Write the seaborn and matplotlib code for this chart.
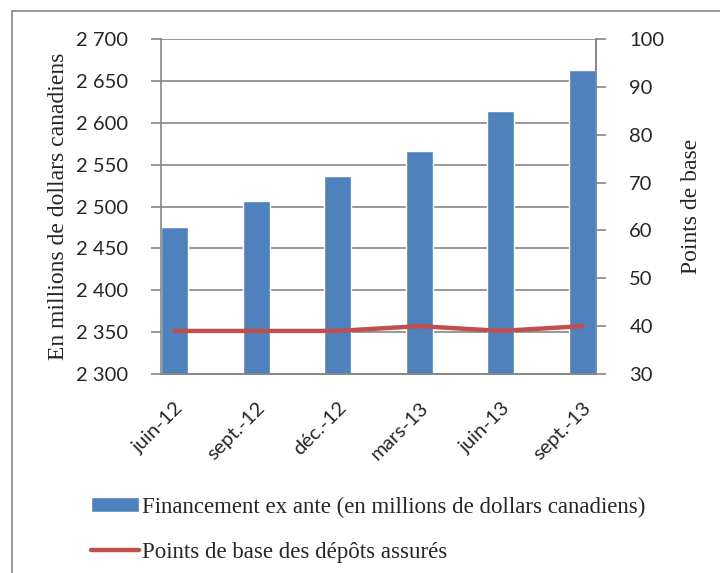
import matplotlib
matplotlib.use('Agg')
import matplotlib.pyplot as plt
import numpy as np
import pandas as pd
import seaborn as sns
from matplotlib.patches import Rectangle

# Data
periodes = ['juin-12', 'sept.-12', 'déc.-12', 'mars-13', 'juin-13', 'sept.-13']
financement = [2475, 2507, 2537, 2566, 2614, 2663]
points_base = [39, 39, 39, 40, 39, 40]

bar_label = 'Financement ex ante (en millions de dollars canadiens)'
line_label = 'Points de base des dépôts assurés'

df = pd.DataFrame({'periode': periodes, 'financement': financement,
                   'points': points_base, 'pos': np.arange(len(periodes))})

sns.set_style('white')
serif = ['Liberation Serif', 'DejaVu Serif']
sans = ['Lato', 'DejaVu Sans']
grey = '#868686'

fig = plt.figure(figsize=(7.2, 5.73), dpi=100)
ax = fig.add_axes([161 / 720, 1 - 374 / 573, 435 / 720, 335 / 573])

bw = 0.33
sns.barplot(data=df, x='periode', y='financement', color='#4F81BD', width=bw,
            saturation=1, ax=ax, zorder=2, label=bar_label)
ax.set_ylim(2300, 2700)
ax.set_yticks(np.arange(2300, 2701, 50))
ax.set_yticklabels([f'{v:,}'.replace(',', ' ') for v in range(2300, 2701, 50)],
                   family=sans, fontsize=14.5)
ax.set_xlim(-bw / 2, len(periodes) - 1 + bw / 2)
ax.set_xticks(df['pos'])
ax.set_xticklabels(periodes, rotation=45, ha='right', rotation_mode='anchor',
                   family=sans, fontsize=14.5)
ax.tick_params(axis='x', length=0, pad=18)
ax.set_xticks(df['pos'] - bw / 2, minor=True)
ax.tick_params(axis='x', which='minor', length=7, color=grey, width=1.2, direction='out')
ax.tick_params(axis='y', length=7, color=grey, width=1.2, direction='out', pad=17)
ax.grid(axis='y', color=grey, linewidth=1.2, zorder=0)
ax.set_axisbelow(True)
ax.set_xlabel('')
ax.set_ylabel('En millions de dollars canadiens', family=serif, fontsize=17, labelpad=5)
for s in ax.spines.values():
    s.set_color(grey)
    s.set_linewidth(1.2)
ax.spines['top'].set_visible(False)

ax2 = ax.twinx()
sns.lineplot(data=df, x='pos', y='points', color='#C0504D', linewidth=3.2, ax=ax2,
             label=line_label, legend=False, solid_capstyle='round')
ax2.set_ylim(30, 100)
ax2.set_yticks(np.arange(30, 101, 10))
ax2.set_yticklabels([str(v) for v in range(30, 101, 10)], family=sans, fontsize=14.5)
ax2.tick_params(axis='y', length=7, color=grey, width=1.2, direction='out', pad=17)
ax2.set_ylabel('Points de base', family=serif, fontsize=17, labelpad=12)
for s in ax2.spines.values():
    s.set_color(grey)
    s.set_linewidth(1.2)
ax2.spines['top'].set_visible(False)
ax2.spines['left'].set_visible(False)
ax2.set_xlim(ax.get_xlim())
if ax.get_legend():
    ax.get_legend().remove()

h1, l1 = ax.get_legend_handles_labels()
h2, l2 = ax2.get_legend_handles_labels()
fig.legend(h1 + h2, l1 + l2, loc='upper left', bbox_to_anchor=(70 / 720, 1 - 476 / 573),
           frameon=False, prop={'family': serif, 'size': 16.5}, handlelength=2.1,
           handleheight=0.6, handletextpad=0.15, labelspacing=1.05)

# outer chart frame
fig.patches.append(Rectangle((12 / 720, -0.05), 1.0, 1 - 11 / 573 + 0.05,
                             transform=fig.transFigure, fill=False,
                             edgecolor=grey, linewidth=1.2))

fig.savefig('out.png', dpi=100)
